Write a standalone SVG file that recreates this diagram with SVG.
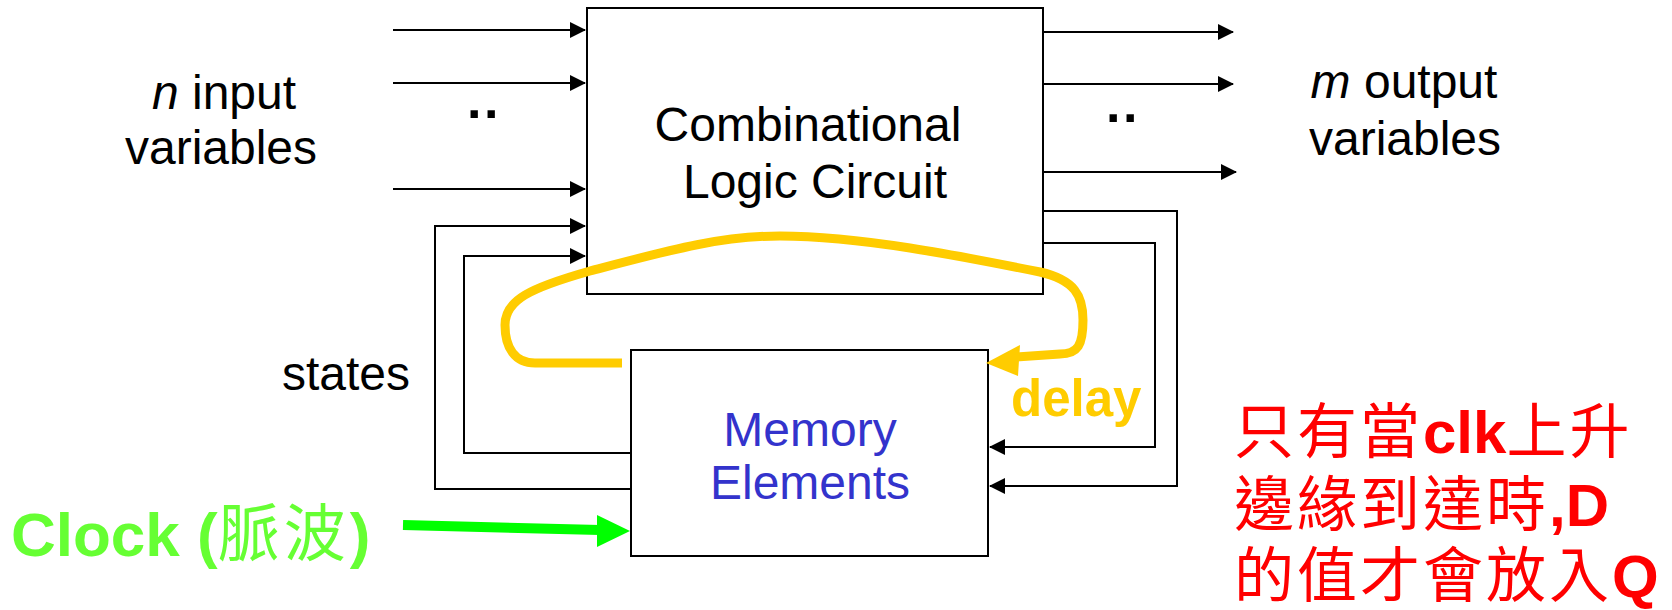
<svg xmlns="http://www.w3.org/2000/svg" width="1672" height="610" viewBox="0 0 1672 610">
  <defs>
    <marker id="arrow" viewBox="0 0 16 16" refX="15" refY="8" markerWidth="16" markerHeight="16" markerUnits="userSpaceOnUse" orient="auto">
      <path d="M0,0 L16,8 L0,16 Z" fill="#000"/>
    </marker>
    <style>
      .box { fill: #fff; stroke: #000; stroke-width: 2; }
      .wire { fill: none; stroke: #000; stroke-width: 2; }
      .lbl { font-family: "Liberation Sans", Arial, sans-serif; font-size: 48px; fill: #000; text-anchor: middle; }
      .dots { font-family: "Liberation Sans", Arial, sans-serif; font-size: 52px; font-weight: bold; fill: #000; letter-spacing: 2.5px; }
      .cjk { font-family: "Noto Sans CJK TC", "Noto Sans CJK SC", sans-serif; font-weight: normal; }
      .note { font-family: "Liberation Sans", Arial, "Noto Sans CJK TC", sans-serif; font-size: 60px; font-weight: bold; fill: #ff0000; }
      .note .cjk { letter-spacing: 3px; }
    </style>
  </defs>
  <rect width="1672" height="610" fill="#fff"/>

  <!-- combinational logic block -->
  <g id="comb-logic">
    <rect class="box" x="587" y="8" width="456" height="286"/>
    <text class="lbl" x="808" y="141">Combinational</text>
    <text class="lbl" x="815" y="198">Logic Circuit</text>
  </g>

  <!-- memory block -->
  <g id="memory">
    <rect class="box" x="631" y="350" width="357" height="206"/>
    <text class="lbl" x="810" y="446" style="fill:#3333cc">Memory</text>
    <text class="lbl" x="810" y="499" style="fill:#3333cc">Elements</text>
  </g>

  <!-- side labels -->
  <g id="inputs-label">
    <text class="lbl" x="224" y="109"><tspan font-style="italic">n</tspan> input</text>
    <text class="lbl" x="221" y="164">variables</text>
    <text class="dots" x="467" y="118">..</text>
  </g>
  <g id="outputs-label">
    <text class="lbl" x="1404" y="98"><tspan font-style="italic">m</tspan> output</text>
    <text class="lbl" x="1405" y="155">variables</text>
    <text class="dots" x="1106" y="122">..</text>
  </g>
  <g id="states-label">
    <text class="lbl" x="346" y="390">states</text>
  </g>

  <!-- signal wiring -->
  <g id="connectors">
    <line class="wire" x1="393" y1="30" x2="585" y2="30" marker-end="url(#arrow)"/>
    <line class="wire" x1="393" y1="83" x2="585" y2="83" marker-end="url(#arrow)"/>
    <line class="wire" x1="393" y1="189" x2="585" y2="189" marker-end="url(#arrow)"/>
    <polyline class="wire" points="631,489 435,489 435,226 585,226" marker-end="url(#arrow)"/>
    <polyline class="wire" points="631,453 464,453 464,256 585,256" marker-end="url(#arrow)"/>

    <line class="wire" x1="1043" y1="32" x2="1233" y2="32" marker-end="url(#arrow)"/>
    <line class="wire" x1="1043" y1="84" x2="1233" y2="84" marker-end="url(#arrow)"/>
    <line class="wire" x1="1043" y1="172" x2="1236" y2="172" marker-end="url(#arrow)"/>
    <polyline class="wire" points="1043,211 1177,211 1177,486 990,486" marker-end="url(#arrow)"/>
    <polyline class="wire" points="1043,243 1155,243 1155,447 990,447" marker-end="url(#arrow)"/>

    <!-- delay loop -->
    <path d="M622,363 H535 C515,363 505,348 505,325 C505,300 530,288 590,271 C670,250 720,236 780,236 C860,236 960,256 1040,272 C1075,280 1083,296 1083,320 C1083,345 1078,354 1060,354 L1016,357" fill="none" stroke="#ffcc00" stroke-width="9" stroke-linejoin="round"/>
    <polygon points="986,363 1020,345 1018,376" fill="#ffcc00"/>

    <!-- clock input -->
    <line x1="403" y1="525" x2="600" y2="530" stroke="#00ff00" stroke-width="10"/>
    <polygon points="630,531 597,515 597,547" fill="#00ff00"/>
  </g>

  <g id="delay-label">
    <text x="1011" y="416" font-family="Liberation Sans, Arial, sans-serif" font-size="51" font-weight="bold" fill="#ffcc00">delay</text>
  </g>

  <g id="clock-label">
    <text x="11" y="556" font-family="Liberation Sans, Arial, sans-serif" font-size="62" font-weight="bold" fill="#66ff33">Clock (<tspan class="cjk" letter-spacing="4">脈波</tspan>)</text>
  </g>

  <g id="note">
    <text class="note" x="1234" y="453"><tspan class="cjk">只有當</tspan>clk<tspan class="cjk">上升</tspan></text>
    <text class="note" x="1234" y="526"><tspan class="cjk">邊緣到達時</tspan>,D</text>
    <text class="note" x="1234" y="597"><tspan class="cjk">的值才會放入</tspan>Q</text>
  </g>
</svg>
